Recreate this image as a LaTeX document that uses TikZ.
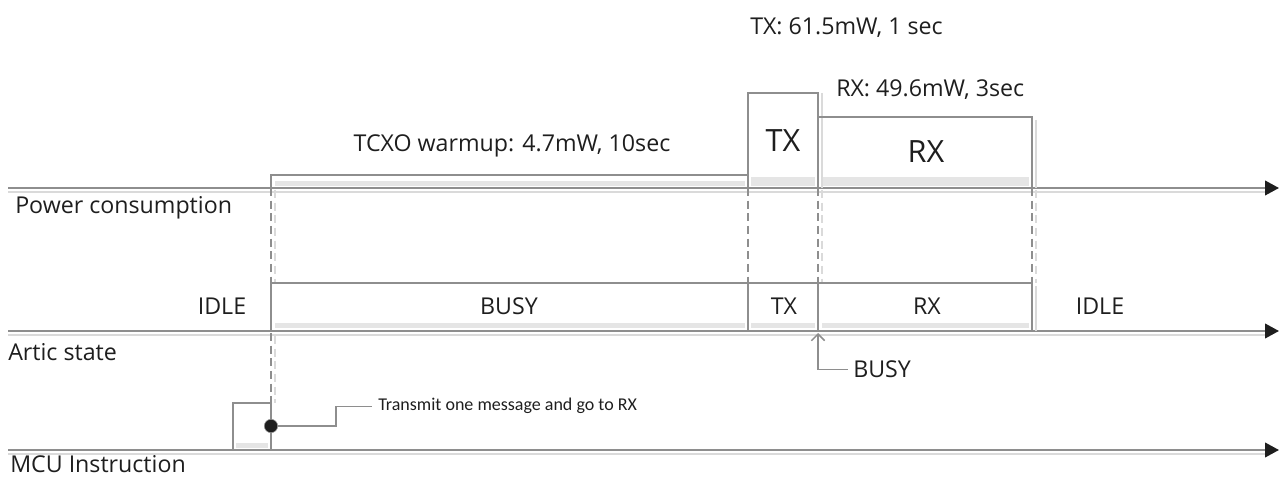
\documentclass[tikz,border=0pt]{standalone}
\usepackage{fontspec}
\setmainfont{Open Sans}
\newfontfamily\notefont{Carlito}
\usetikzlibrary{arrows.meta,positioning}
\definecolor{line-gray}{HTML}{8E8E8E}
\definecolor{shade-gray}{HTML}{DADADA}
\definecolor{text-dark}{HTML}{1E1E1E}

\tikzset{
  axisline/.style={draw=line-gray,line width=1.4pt,-{Triangle[length=10.5pt,width=11pt,color=text-dark]}},
  shadeline/.style={draw=shade-gray,line width=1.4pt},
  boxline/.style={draw=line-gray,line width=1.4pt},
  guide/.style={draw=line-gray,line width=1.4pt,dash pattern=on 6pt off 3.5pt},
  guideshade/.style={guide,draw=shade-gray},
  band/.style={fill=shade-gray!70},
  callout/.style={draw=line-gray,line width=1.1pt},
  lbl/.style={inner sep=0pt,text=text-dark,font=\fontsize{17.4}{20}\selectfont},
  biglbl/.style={lbl,font=\fontsize{23}{26}\selectfont},
  notelbl/.style={lbl,font=\notefont\fontsize{13.5}{16}\selectfont},
}

\begin{document}
\begin{tikzpicture}[x=0.75pt,y=-0.75pt]
  \useasboundingbox (0,0) rectangle (1279,477);
  % time axes
  \coordinate (pw-start) at (8,188);  \coordinate (pw-end) at (1279,188);
  \coordinate (st-start) at (8,331);  \coordinate (st-end) at (1279,331);
  \coordinate (mcu-start) at (8,450); \coordinate (mcu-end) at (1279,450);
  \foreach \ax in {pw,st,mcu}{
    \draw[shadeline] ([yshift=-3pt]\ax-start) -- ([yshift=-3pt,xshift=-8pt]\ax-end);
    \draw[axisline] (\ax-start) -- (\ax-end);
  }
  \node[lbl,anchor=base west] (pw-name) at (15,214) {Power consumption};
  \node[lbl,anchor=base west] (st-name) at (8,361) {Artic state};
  \node[lbl,anchor=base west] (mcu-name) at (10,472) {MCU Instruction};

  % power profile
  \fill[band] (275,181) rectangle (745,186);
  \fill[band] (751,177) rectangle (815,186);
  \fill[band] (822,177) rectangle (1029,186);
  \draw[shadeline] (822,93) -- (822,188);
  \draw[shadeline] (1036,120) -- (1036,188);
  \draw[boxline] (271,188) -- (271,175) -- (748,175) -- (748,93) -- (818,93)
    -- (818,117) -- (1032,117) -- (1032,188);
  \draw[boxline] (748,175) -- (748,188);
  \draw[boxline] (818,117) -- (818,188);
  \node[lbl,anchor=base] (tcxo-lbl) at (512,152) {TCXO warmup: 4.7mW, 10sec};
  \node[lbl,anchor=base west] (tx-pw-lbl) at (750,35) {TX: 61.5mW, 1 sec};
  \node[lbl,anchor=base west] (rx-pw-lbl) at (836,97) {RX: 49.6mW, 3sec};
  \node[biglbl,anchor=base] (tx-box-lbl) at (783,152) {TX};
  \node[biglbl,anchor=base] (rx-box-lbl) at (926,163) {RX};

  % guides between the axes
  \draw[guideshade] (275,190) -- (275,283);
  \draw[guideshade] (822,190) -- (822,283);
  \draw[guideshade] (1036,190) -- (1036,283);
  \draw[guide] (271,188) -- (271,283);
  \draw[guide] (748,188) -- (748,283);
  \draw[guide] (818,188) -- (818,283);
  \draw[guide] (1032,188) -- (1032,283);
  \draw[guideshade] (275,336) -- (275,403);
  \draw[guide] (271,333) -- (271,403);

  % state sequence
  \fill[band] (275,323) rectangle (745,328);
  \fill[band] (751,323) rectangle (815,328);
  \fill[band] (822,323) rectangle (1029,328);
  \draw[shadeline] (1036,286) -- (1036,331);
  \draw[boxline] (271,331) -- (271,283) -- (1032,283) -- (1032,331);
  \draw[boxline] (748,283) -- (748,331);
  \draw[boxline] (818,283) -- (818,331);
  \node[lbl,anchor=base] (idle-a) at (222,315) {IDLE};
  \node[lbl,anchor=base] (busy-a) at (509,315) {BUSY};
  \node[lbl,anchor=base] (tx-st) at (784,315) {TX};
  \node[lbl,anchor=base] (rx-st) at (927,315) {RX};
  \node[lbl,anchor=base] (idle-b) at (1100,315) {IDLE};
  \coordinate (busy-tip) at (818,333);
  \node[lbl,anchor=base west] (busy-lbl) at (853,378) {BUSY};
  \draw[callout,{Straight Barb[length=5pt,width=10pt]}-] (busy-tip) |- ([xshift=-4pt]busy-lbl.west);

  % mcu command
  \fill[band] (236,443) rectangle (268,448);
  \draw[boxline] (233,450) -- (233,403) -- (271,403) -- (271,450);
  \node[notelbl,anchor=base west] (cmd-lbl) at (378,411) {Transmit one message and go to RX};
  \node[circle,fill=text-dark,draw=line-gray,minimum size=10pt,inner sep=0pt] (cmd-dot) at (271,426) {};
  \draw[callout] (cmd-dot) -- ++(65,0) |- ([xshift=-4.5pt]cmd-lbl.west);
\end{tikzpicture}
\end{document}
